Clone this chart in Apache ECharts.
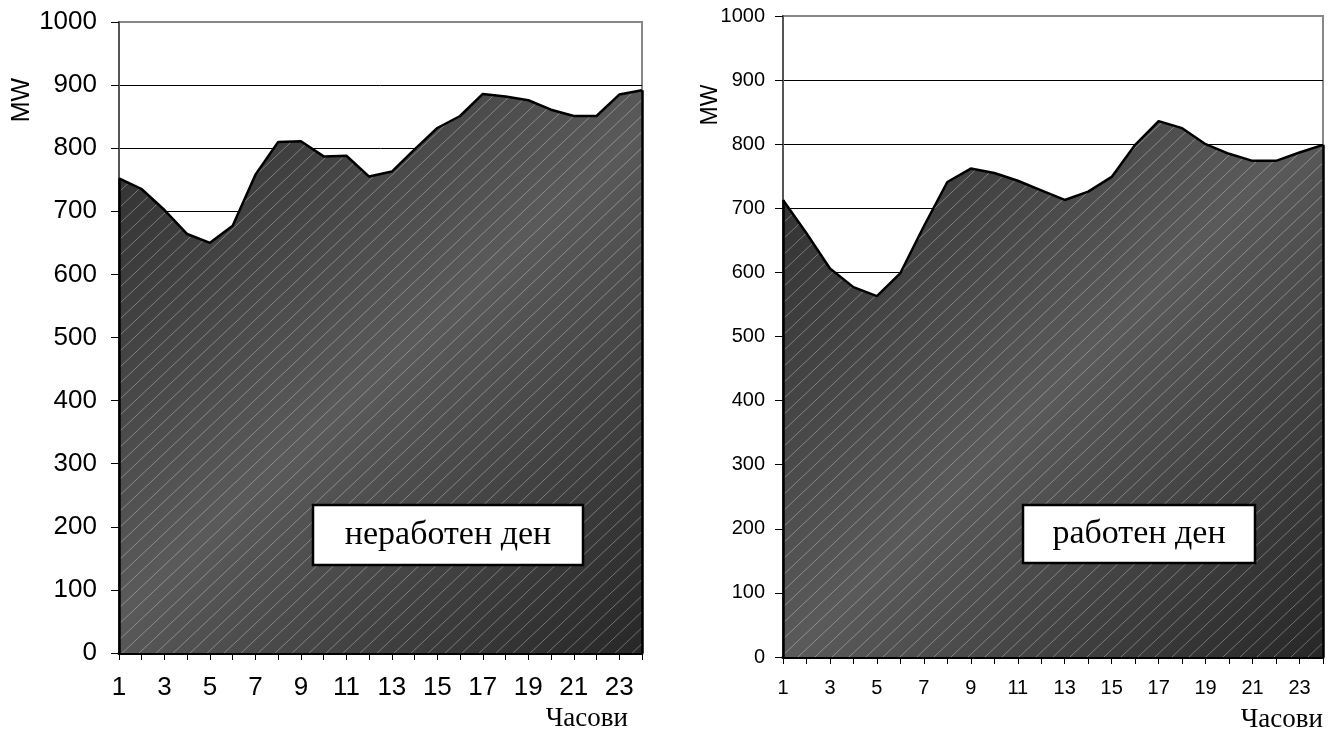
<!DOCTYPE html>
<html><head><meta charset="utf-8">
<script src="https://cdn.jsdelivr.net/npm/echarts@6/dist/echarts.min.js"></script>
<style>html,body{margin:0;padding:0;background:#fff}#c{width:1330px;height:732px}</style>
</head><body><div id="c"></div>
<script>
const hours = ['1','2','3','4','5','6','7','8','9','10','11','12','13','14','15','16','17','18','19','20','21','22','23','24'];
const nonWorkingDay = [752,735,702,664,650,677,758,810,811,787,788,755,763,798,832,851,886,882,876,861,851,851,885,892];
const workingDay = [713,661,606,577,563,599,672,741,762,755,743,728,713,726,749,799,836,825,800,785,774,774,787,799];
const yMin = 0, yMax = 1000, yStep = 100;
const yName = 'MW';
const xName = 'Часови';
const leftLabel = 'неработен ден';
const rightLabel = 'работен ден';

function hatch(){
  const w = 17, h = 16;
  const c = document.createElement('canvas');
  c.width = w; c.height = h;
  const g = c.getContext('2d');
  g.strokeStyle = 'rgba(255,255,255,0.33)';
  g.lineWidth = 1;
  g.beginPath();
  for (const dx of [-w, 0, w]) { g.moveTo(dx, h); g.lineTo(dx + w, 0); }
  g.stroke();
  return c;
}
const pattern = {image: hatch(), repeat: 'repeat'};
const grad = {type:'linear', x:0, y:0, x2:1, y2:1, colorStops:[
  {offset:0, color:'#2c2c2c'}, {offset:0.5, color:'#5a5a5a'}, {offset:1, color:'#272727'}]};

const sans = 'Liberation Sans, Arial, sans-serif';
const serif = 'Liberation Serif, Times New Roman, serif';

function xAxisFor(i, fs, margin){
  return {type:'category', gridIndex:i, data:hours, boundaryGap:false,
    axisLine:{show:true, lineStyle:{color:'#000', width:3}},
    axisTick:{show:true, interval:0, length:7, lineStyle:{color:'#000', width:1}},
    axisLabel:{interval:1, fontSize:fs, fontFamily:sans, color:'#000', margin:margin},
    splitLine:{show:false}};
}
function yAxisFor(i, fs, margin){
  return {type:'value', gridIndex:i, min:yMin, max:yMax, interval:yStep,
    axisLine:{show:true, lineStyle:{color:'#555', width:2}},
    axisTick:{show:true, length:8, lineStyle:{color:'#000', width:1}},
    axisLabel:{fontSize:fs, fontFamily:sans, color:'#000', margin:margin, formatter:function(v){return String(v);}},
    splitLine:{show:true, showMinLine:false, showMaxLine:false, lineStyle:{color:'#000', width:1}}};
}
function seriesFor(i, data){
  const last = data.length - 1;
  return [
    {type:'line', xAxisIndex:i, yAxisIndex:i, data:data, symbol:'none', silent:true,
     lineStyle:{width:0}, areaStyle:{color:grad, opacity:1}, z:2},
    {type:'line', xAxisIndex:i, yAxisIndex:i, data:data, symbol:'none', silent:true,
     lineStyle:{color:'#000', width:2.5}, areaStyle:{color:pattern, opacity:1}, z:3,
     markLine:{silent:true, symbol:'none', label:{show:false},
       lineStyle:{color:'#000', width:2.5, type:'solid'},
       data:[
         [{coord:[hours[0], yMin]}, {coord:[hours[0], data[0]]}],
         [{coord:[hours[last], yMin]}, {coord:[hours[last], data[last]]}]
       ]}}
  ];
}
function box(cx, cy, w, h, text, fs){
  return {type:'group', children:[
    {type:'rect', shape:{x:cx - w/2, y:cy - h/2, width:w, height:h},
     style:{fill:'#fff', stroke:'#000', lineWidth:2.5}, z:20},
    {type:'text', x:cx, y:cy, style:{text:text, font:fs + 'px ' + serif, fill:'#000',
     textAlign:'center', textVerticalAlign:'middle'}, z:21}
  ]};
}

const chart = echarts.init(document.getElementById('c'), null, {renderer:'canvas'});
chart.setOption({
  animation:false,
  backgroundColor:'#fff',
  grid:[
    {left:119, right:688, top:22, bottom:79, show:true, borderColor:'#888', borderWidth:2, backgroundColor:'#fff'},
    {left:783, right:7, top:16, bottom:75, show:true, borderColor:'#888', borderWidth:2, backgroundColor:'#fff'}
  ],
  xAxis:[xAxisFor(0, 26, 22), xAxisFor(1, 20, 21)],
  yAxis:[yAxisFor(0, 26, 22), yAxisFor(1, 20, 18)],
  series:[...seriesFor(0, nonWorkingDay), ...seriesFor(1, workingDay)],
  graphic:[
    {type:'text', x:22, y:100, rotation:Math.PI/2, style:{text:yName, font:'25px ' + sans, fill:'#000', textAlign:'center', textVerticalAlign:'middle'}},
    {type:'text', x:711, y:105, rotation:Math.PI/2, style:{text:yName, font:'23px ' + sans, fill:'#000', textAlign:'center', textVerticalAlign:'middle'}},
    {type:'text', x:628, y:719, style:{text:xName, font:'27px ' + serif, fill:'#000', textAlign:'right', textVerticalAlign:'middle'}},
    {type:'text', x:1323, y:720, style:{text:xName, font:'27px ' + serif, fill:'#000', textAlign:'right', textVerticalAlign:'middle'}},
    box(448, 535, 270, 60, leftLabel, 34),
    box(1139, 534, 232, 58, rightLabel, 34)
  ]
});
</script></body></html>
